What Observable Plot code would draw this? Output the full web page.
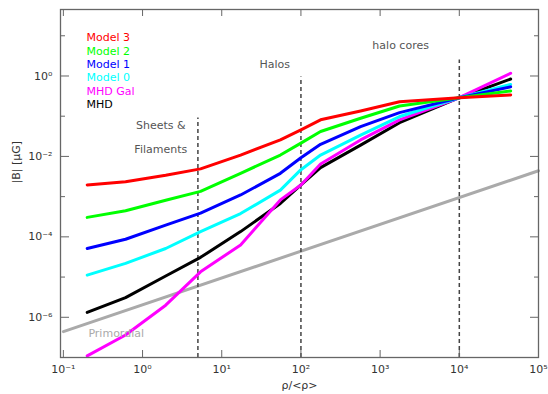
<!DOCTYPE html>
<html><head><meta charset="utf-8">
<script src="https://cdn.jsdelivr.net/npm/d3@7"></script>
<script src="https://cdn.jsdelivr.net/npm/@observablehq/plot@0.6"></script>
<style>body{margin:0;background:#fff} #chart svg{display:block}</style>
</head><body><div id="chart"></div>
<script>
// density bins (rho / <rho>)
const rho = [0.2, 0.61, 1.96, 5.4, 17.3, 55, 100, 177, 567, 1760, 1e4, 4.45e4];
// |B| [muG] per model
const model3 = [1.95e-3, 2.34e-3, 3.39e-3, 4.9e-3, 1.08e-2, 2.57e-2, 4.57e-2, 8.13e-2, 0.135, 0.229, 0.288, 0.339];
const model2 = [3.05e-4, 4.47e-4, 8.13e-4, 1.35e-3, 3.8e-3, 1.08e-2, 2.14e-2, 4.17e-2, 8.9e-2, 0.179, 0.288, 0.424];
const model1 = [5.13e-5, 8.7e-5, 1.95e-4, 3.89e-4, 1.1e-3, 3.8e-3, 9.3e-3, 2.0e-2, 5.5e-2, 0.123, 0.288, 0.537];
const model0 = [1.12e-5, 2.19e-5, 5.13e-5, 1.35e-4, 3.8e-4, 1.45e-3, 4.68e-3, 1.08e-2, 3.39e-2, 9.8e-2, 0.288, 0.617];
const mhdGal = [1.1e-7, 3.63e-7, 2.0e-6, 1.35e-5, 6.3e-5, 8.3e-4, 1.95e-3, 6.46e-3, 2.57e-2, 8.13e-2, 0.288, 1.17];
const mhd    = [1.32e-6, 3.09e-6, 1.06e-5, 3.09e-5, 1.35e-4, 6.76e-4, 1.95e-3, 5.25e-3, 1.91e-2, 6.9e-2, 0.288, 0.84];

const seriesNames  = ["Model 3", "Model 2", "Model 1", "Model 0", "MHD Gal", "MHD"];
const seriesValues = [model3, model2, model1, model0, mhdGal, mhd];
const seriesColors = ["#ff0000", "#00ff00", "#0000ff", "#00ffff", "#ff00ff", "#000000"];

// primordial field line
const primRho = [0.1, 1e5];
const primB   = [4.4e-7, 4.4e-3];

// structure regions
const regionRho    = [5, 100, 1e4];
const regionTop    = [0.09, 0.94, 2.5];
const regionLabels = [["Sheets &", "Filaments"], ["Halos"], ["halo cores"]];
const regionLabelRho = [1.7, 46.6, 1816];
const regionLabelB   = [[0.06, 0.0145], [1.88], [5.9]];

const xTicks  = [0.1, 1, 10, 100, 1e3, 1e4, 1e5];
const yMajor  = [1e-6, 1e-4, 1e-2, 1];
const yMinor  = [1e-5, 1e-3, 1e-1, 10];

const sup = {"-":"\u207B","0":"\u2070","1":"\u00B9","2":"\u00B2","3":"\u00B3","4":"\u2074","5":"\u2075","6":"\u2076","7":"\u2077","8":"\u2078","9":"\u2079"};
const powFmt = d => "10" + String(Math.round(Math.log10(d))).split("").map(c => sup[c]).join("");

const font = "DejaVu Sans, sans-serif";
const axisColor = "#666";
const textColor = "#333";

// build tables
const lineRows = [];
seriesNames.forEach((name, i) => rho.forEach((r, j) => lineRows.push({rho: r, B: seriesValues[i][j], name})));
const primRows = primRho.map((r, j) => ({rho: r, B: primB[j]}));
const regionRows = regionRho.map((r, i) => ({rho: r, top: regionTop[i]}));
const annRows = [];
regionLabels.forEach((labs, i) => labs.forEach((t, k) => annRows.push({rho: regionLabelRho[i], B: regionLabelB[i][k], text: t})));

const drawOrder = [5, 4, 3, 2, 1, 0];

const marks = [
  Plot.line(primRows, {x: "rho", y: "B", stroke: "#aaaaaa", strokeWidth: 3}),
  Plot.ruleX(regionRows, {x: "rho", y1: 1e-7, y2: "top", stroke: "#444", strokeWidth: 1.5, strokeDasharray: "4,3"}),
  ...drawOrder.map(i => Plot.line(lineRows.filter(d => d.name === seriesNames[i]), {x: "rho", y: "B", stroke: seriesColors[i], strokeWidth: 3})),
  Plot.text(annRows, {x: "rho", y: "B", text: "text", fill: "#555", fontSize: 11}),
  Plot.text(["Primordial"], {x: [0.465], y: [3.9e-7], text: d => d, fill: "#aaaaaa", fontSize: 11}),
  ...seriesNames.map((n, i) => Plot.text([n], {frameAnchor: "top-left", dx: 26, dy: 24 + 13.3 * i, text: d => d, fill: seriesColors[i], fontSize: 11, textAnchor: "start"})),
  Plot.frame({stroke: axisColor, strokeWidth: 1.3}),
  // inward ticks
  Plot.axisX(xTicks, {anchor: "bottom", tickSize: 7, dy: -7, tickFormat: () => "", stroke: axisColor}),
  Plot.axisX(xTicks, {anchor: "top", tickSize: 6, dy: 6, tickFormat: () => "", stroke: axisColor}),
  Plot.axisY(yMajor, {anchor: "left", tickSize: 9, dx: 9, tickFormat: () => "", stroke: axisColor}),
  Plot.axisY(yMinor, {anchor: "left", tickSize: 5, dx: 5, tickFormat: () => "", stroke: axisColor}),
  Plot.axisY(yMajor, {anchor: "right", tickSize: 9, dx: -9, tickFormat: () => "", stroke: axisColor}),
  Plot.axisY(yMinor, {anchor: "right", tickSize: 5, dx: -5, tickFormat: () => "", stroke: axisColor}),
  // labels
  Plot.axisX(xTicks, {anchor: "bottom", tickSize: 0, tickPadding: 8, tickFormat: powFmt, fill: textColor, fontSize: 11}),
  Plot.axisY(yMajor, {anchor: "left", tickSize: 0, tickPadding: 8, tickFormat: powFmt, fill: textColor, fontSize: 11}),
  Plot.text(["\u03C1/<\u03C1>"], {frameAnchor: "bottom", dy: 31, text: d => d, fill: textColor, fontSize: 11}),
  Plot.text(["|B| [\u03BCG]"], {frameAnchor: "left", dx: -44, rotate: -90, text: d => d, fill: textColor, fontSize: 11})
];

const chart = Plot.plot({
  width: 548,
  height: 394,
  marginLeft: 60,
  marginRight: 10,
  marginTop: 9,
  marginBottom: 37,
  style: {fontFamily: font, background: "#fff"},
  x: {type: "log", domain: [0.092, 1e5], label: null},
  y: {type: "log", domain: [1e-7, 45], label: null},
  marks
});
document.getElementById("chart").appendChild(chart);
</script>
</body></html>
